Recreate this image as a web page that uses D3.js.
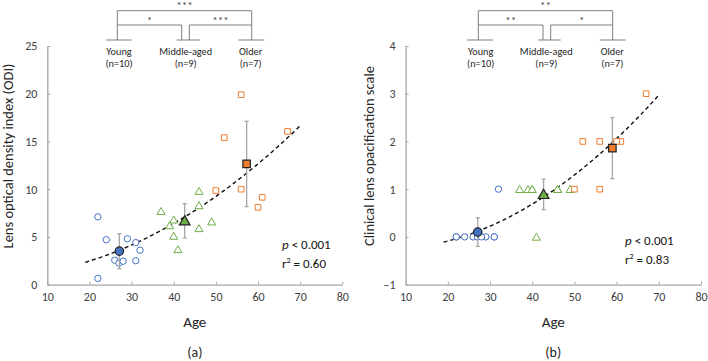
<!DOCTYPE html>
<html><head><meta charset="utf-8">
<script src="https://cdn.jsdelivr.net/npm/d3@7"></script>
<style>
body{margin:0;background:#fff;}
svg{display:block;font-family:Carlito,Calibri,Lato,sans-serif;}
</style></head><body>
<svg id="c" width="708" height="361"></svg>
<script>
// ---- data ----
const groups = ["Young", "Middle-aged", "Older"];
const groupN = ["(n=10)", "(n=9)", "(n=7)"];
const youngAge = [22, 24, 29, 31, 32, 26, 27, 28, 31, 22];
const youngODI = [7.1, 4.7, 4.8, 4.4, 3.6, 2.55, 2.25, 2.45, 2.5, 0.65];
const youngScale = [0, 0, 0, 0, 1, 0, 0, 0, 0, 0];
const middleAge = [37, 40, 39, 46, 46, 49, 46, 40, 41];
const middleODI = [7.7, 6.8, 6.2, 9.8, 8.3, 6.6, 5.9, 5.1, 3.7];
const middleScale = [1, 1, 1, 1, 1, 1, 1, 1, 0];
const olderAge = [56, 52, 67, 50, 56, 61, 60];
const olderODI = [19.9, 15.4, 16.05, 9.85, 10.0, 9.15, 8.1];
const olderScale = [2, 2, 3, 1, 1, 2, 2];
const meanAgeA = [27.1, 42.6, 57.3];
const meanODI = [3.5, 6.68, 12.64];
const sdODI = [1.83, 1.8, 4.47];
const meanAgeB = [27.1, 42.7, 59.0];
const meanScale = [0.1, 0.89, 1.86];
const sdScale = [0.3, 0.32, 0.64];
const sigA = ["***", "*", "***"];   // top, young-middle, middle-older
const sigB = ["**", "**", "*"];
const statsA = ["0.001", "0.60"];
const statsB = ["0.001", "0.83"];
const xTicks = [10, 20, 30, 40, 50, 60, 70, 80];
const yTicksA = [0, 5, 10, 15, 20, 25];
const yTicksB = [-1, 0, 1, 2, 3, 4];
const trendRange = [19, 70];

const colors = ["#4472C4", "#70AD47", "#ED7D31"];
const shapes = [d3.symbolCircle, d3.symbolTriangle, d3.symbolSquare];
const axisColor = "#a6a6a6", textColor = "#404040";

const svg = d3.select("#c");

function quadFit(xs, ys) {
  // least-squares quadratic y = a + b x + c x^2
  const n = xs.length;
  let S = [0,0,0,0,0], T = [0,0,0];
  for (let i = 0; i < n; i++) {
    const x = xs[i], y = ys[i];
    for (let k = 0; k < 5; k++) S[k] += Math.pow(x, k);
    for (let k = 0; k < 3; k++) T[k] += y * Math.pow(x, k);
  }
  const M = [[S[0],S[1],S[2],T[0]],[S[1],S[2],S[3],T[1]],[S[2],S[3],S[4],T[2]]];
  for (let i = 0; i < 3; i++) {
    for (let j = i + 1; j < 3; j++) {
      const f = M[j][i] / M[i][i];
      for (let k = i; k < 4; k++) M[j][k] -= f * M[i][k];
    }
  }
  const c = M[2][3] / M[2][2];
  const b = (M[1][3] - M[1][2] * c) / M[1][1];
  const a = (M[0][3] - M[0][1] * b - M[0][2] * c) / M[0][0];
  return x => a + b * x + c * x * x;
}

function panel(cfg) {
  const g = svg.append("g");
  const x = d3.scaleLinear().domain([10, 80]).range([cfg.x0, cfg.x1]);
  const y = d3.scaleLinear().domain(cfg.yDomain).range([284.6, 46]);

  // axes
  const xa = g.append("g").attr("transform", `translate(0,${y(cfg.yDomain[0])})`)
    .call(d3.axisBottom(x).tickValues(xTicks).tickFormat(d3.format("d")).tickSizeInner(-3).tickSizeOuter(0).tickPadding(8));
  const ya = g.append("g").attr("transform", `translate(${x(10)},0)`)
    .call(d3.axisLeft(y).tickValues(cfg.yTicks).tickFormat(d3.format("d")).tickSizeInner(-3).tickSizeOuter(0).tickPadding(10));
  [xa, ya].forEach(a => {
    a.select(".domain").attr("stroke", axisColor).attr("stroke-width", 1.3);
    a.selectAll(".tick line").attr("stroke", axisColor);
    a.selectAll(".tick text").attr("fill", textColor).style("font-size", "12px").style("font-family", "Carlito,Calibri,Lato,sans-serif");
  });

  // axis titles
  g.append("text").attr("x", (cfg.x0 + cfg.x1) / 2).attr("y", 327)
    .attr("text-anchor", "middle").attr("fill", "#262626").style("font-size", "15px").text("Age");
  g.append("text").attr("transform", `translate(${cfg.ylx},${156}) rotate(-90)`)
    .attr("text-anchor", "middle").attr("fill", "#262626").style("font-size", "14.5px").text(cfg.ylabel);
  g.append("text").attr("x", (cfg.x0 + cfg.x1) / 2).attr("y", 357)
    .attr("text-anchor", "middle").attr("fill", "#262626").style("font-size", "14px").text(cfg.tag);

  // trend line
  const allX = [].concat(...cfg.ages), allY = [].concat(...cfg.vals);
  const f = quadFit(allX, allY);
  const tx = d3.range(trendRange[0], trendRange[1] + 0.01, 0.5);
  g.append("path").datum(tx)
    .attr("d", d3.line().x(d => x(d)).y(d => y(f(d))))
    .attr("fill", "none").attr("stroke", "#111").attr("stroke-width", 1.4).attr("stroke-dasharray", "4,3");

  // individual points
  cfg.ages.forEach((ages, gi) => {
    g.append("g").selectAll("path").data(ages.map((a, i) => [a, cfg.vals[gi][i]])).join("path")
      .attr("transform", d => `translate(${x(d[0])},${y(d[1]) + (gi === 1 ? 1 : 0)})`)
      .attr("d", d3.symbol().type(shapes[gi]).size(gi === 1 ? 28 : 32))
      .attr("fill", "#fff").attr("stroke", colors[gi]).attr("stroke-width", 1);
  });

  // error bars + means
  cfg.mAge.forEach((ma, gi) => {
    const m = cfg.mVal[gi], s = cfg.sd[gi];
    const eb = g.append("g").attr("stroke", "#a6a6a6").attr("stroke-width", 1.3);
    eb.append("line").attr("x1", x(ma)).attr("x2", x(ma)).attr("y1", y(m + s)).attr("y2", y(m - s));
    [m + s, m - s].forEach(v => eb.append("line").attr("x1", x(ma) - 2).attr("x2", x(ma) + 2).attr("y1", y(v)).attr("y2", y(v)));
    g.append("path").attr("transform", `translate(${x(ma)},${y(m) + (gi === 1 ? 1 : 0)})`)
      .attr("d", d3.symbol().type(shapes[gi]).size(gi === 1 ? 50 : 56))
      .attr("fill", colors[gi]).attr("stroke", "#222").attr("stroke-width", 1.2);
  });

  // stats text
  const st = g.append("text").attr("x", cfg.sx).attr("y", cfg.sy).attr("fill", "#111").style("font-size", "13px");
  st.append("tspan").style("font-style", "italic").text("p");
  st.append("tspan").text(" < " + cfg.stats[0]);
  const r2 = g.append("text").attr("x", cfg.sx).attr("y", cfg.sy + 19).attr("fill", "#111").style("font-size", "13px");
  r2.append("tspan").text("r");
  r2.append("tspan").attr("dy", -5).style("font-size", "8px").text("2");
  r2.append("tspan").attr("dy", 5).text(" = " + cfg.stats[1]);

  // significance brackets
  const b = cfg.br;
  const bg = g.append("g").attr("stroke", "#7f7f7f").attr("stroke-width", 1).attr("fill", "none");
  const L = b.l, ML = b.ml, MR = b.mr, R = b.r;
  bg.append("path").attr("d", `M${L},40V10.7H${R}V40`);
  bg.append("path").attr("d", `M${L},25H${ML}V40M${MR},40V25H${R}`);
  b.base.forEach(([a, c]) => bg.append("line").attr("x1", a).attr("x2", c).attr("y1", 40).attr("y2", 40));
  const stars = [[(L + R) / 2, 9], [(L + ML) / 2, 24], [(MR + R) / 2, 24]];
  stars.forEach(([sx, sy], i) => g.append("text").attr("x", sx).attr("y", sy).attr("text-anchor", "middle")
    .attr("fill", "#404040").style("font-size", "11px").text(cfg.sig[i]));
  b.lab.forEach((lx, i) => {
    g.append("text").attr("x", lx).attr("y", 55).attr("text-anchor", "middle").attr("fill", "#262626")
      .style("font-size", "10.3px").text(groups[i]);
    g.append("text").attr("x", lx).attr("y", 66.5).attr("text-anchor", "middle").attr("fill", "#262626")
      .style("font-size", "10.3px").text(groupN[i]);
  });
}

panel({
  x0: 47.3, x1: 342.3, yDomain: [0, 25], yTicks: yTicksA, ylx: 13, ylabel: "Lens optical density index (ODI)", tag: "(a)",
  ages: [youngAge, middleAge, olderAge], vals: [youngODI, middleODI, olderODI],
  mAge: meanAgeA, mVal: meanODI, sd: sdODI, stats: statsA, sx: 282, sy: 249, sig: sigA,
  br: { l: 117.3, ml: 181.7, mr: 189.3, r: 251.7, base: [[106, 131.7], [176.7, 200], [238.3, 264.3]], lab: [119, 185.7, 250.7] }
});
panel({
  x0: 405.6, x1: 701, yDomain: [-1, 4], yTicks: yTicksB, ylx: 374, ylabel: "Clinical lens opacification scale", tag: "(b)",
  ages: [youngAge, middleAge, olderAge], vals: [youngScale, middleScale, olderScale],
  mAge: meanAgeB, mVal: meanScale, sd: sdScale, stats: statsB, sx: 625, sy: 245, sig: sigB,
  br: { l: 478.3, ml: 543, mr: 550.7, r: 612.7, base: [[467.3, 493], [538.3, 560.7], [599.7, 625.7]], lab: [480.7, 546.3, 612.3] }
});
</script>
</body></html>
